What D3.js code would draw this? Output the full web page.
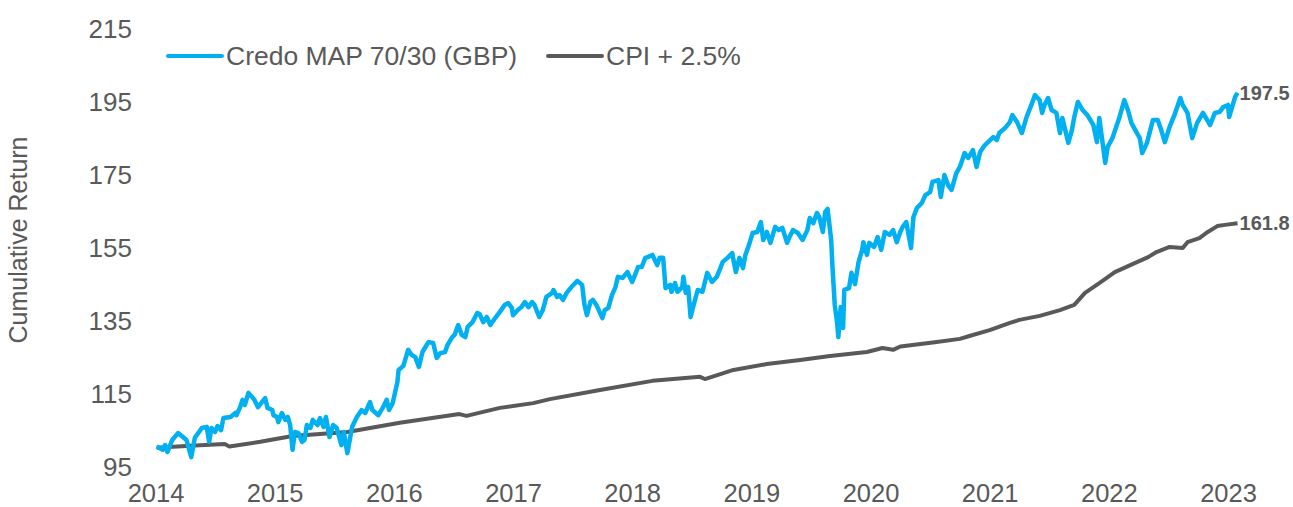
<!DOCTYPE html>
<html>
<head>
<meta charset="utf-8">
<script src="https://cdnjs.cloudflare.com/ajax/libs/d3/7.8.5/d3.min.js"></script>
<style>
  body { margin: 0; background: #fff; }
  svg { display: block; font-family: "Liberation Sans", Arial, sans-serif; }
</style>
</head>
<body>
<svg id="chart" width="1293" height="507"></svg>
<script>
// tick labels
var years = [2014, 2015, 2016, 2017, 2018, 2019, 2020, 2021, 2022, 2023];
var yTicks = [95, 115, 135, 155, 175, 195, 215];

// series names + end labels
var seriesNames = ["Credo MAP 70/30 (GBP)", "CPI + 2.5%"];
var endLabels = ["197.5", "161.8"];

// Credo MAP 70/30 (GBP) - [decimal year, cumulative return]
var credo = [
  [2014.01,100.6],[2014.06,99.7],[2014.08,101.0],[2014.10,99.1],[2014.14,102.4],[2014.19,104.3],
  [2014.23,103.2],[2014.26,102.4],[2014.30,97.7],[2014.33,103.0],[2014.39,105.7],[2014.43,106.0],
  [2014.45,101.9],[2014.47,105.7],[2014.50,104.6],[2014.52,106.2],[2014.55,105.1],[2014.57,108.4],
  [2014.63,108.7],[2014.67,109.8],[2014.68,109.2],[2014.71,111.4],[2014.73,113.4],[2014.75,112.0],
  [2014.78,115.3],[2014.81,114.2],[2014.83,113.4],[2014.86,111.4],[2014.92,113.9],[2014.94,111.2],
  [2014.98,110.6],[2014.99,109.2],[2015.02,108.7],[2015.03,107.3],[2015.06,109.8],[2015.09,107.9],
  [2015.11,108.7],[2015.13,106.5],[2015.15,99.7],[2015.17,104.6],[2015.20,104.3],[2015.23,101.9],
  [2015.25,102.4],[2015.27,106.5],[2015.30,105.7],[2015.32,107.9],[2015.36,106.5],[2015.38,108.4],
  [2015.41,106.0],[2015.43,108.7],[2015.46,103.2],[2015.49,106.5],[2015.52,105.7],[2015.56,101.0],
  [2015.58,104.6],[2015.61,98.8],[2015.65,106.0],[2015.69,108.7],[2015.73,110.6],[2015.76,109.8],
  [2015.80,112.8],[2015.82,110.6],[2015.87,109.2],[2015.91,111.4],[2015.94,113.4],[2015.96,110.6],
  [2015.99,112.5],[2016.03,118.3],[2016.04,121.6],[2016.08,122.7],[2016.12,127.1],[2016.15,125.7],
  [2016.18,125.1],[2016.21,122.4],[2016.24,126.5],[2016.29,129.2],[2016.33,129.0],[2016.36,124.9],
  [2016.39,126.2],[2016.43,126.5],[2016.45,128.4],[2016.49,130.6],[2016.51,131.2],[2016.54,133.9],
  [2016.57,131.2],[2016.60,130.6],[2016.62,133.4],[2016.66,134.7],[2016.70,137.2],[2016.72,136.9],
  [2016.75,134.7],[2016.78,136.1],[2016.81,133.9],[2016.85,135.8],[2016.89,137.5],[2016.93,139.4],
  [2016.96,139.9],[2016.99,138.6],[2017.00,136.6],[2017.04,138.0],[2017.07,138.8],[2017.10,140.2],
  [2017.13,138.8],[2017.16,140.2],[2017.18,139.4],[2017.22,136.1],[2017.25,138.0],[2017.28,141.6],
  [2017.33,142.7],[2017.34,143.5],[2017.37,141.6],[2017.39,142.1],[2017.42,140.8],[2017.45,142.7],
  [2017.49,144.3],[2017.54,146.0],[2017.58,144.9],[2017.60,139.4],[2017.62,136.6],[2017.65,140.2],
  [2017.67,140.8],[2017.70,139.4],[2017.75,135.8],[2017.77,138.0],[2017.80,138.6],[2017.83,142.1],
  [2017.86,144.3],[2017.88,147.1],[2017.92,146.8],[2017.96,148.4],[2018.00,145.7],[2018.02,147.3],
  [2018.05,149.8],[2018.08,149.8],[2018.11,152.3],[2018.13,152.5],[2018.17,153.1],[2018.21,150.3],
  [2018.23,152.3],[2018.26,152.3],[2018.28,144.0],[2018.32,144.9],[2018.33,143.0],[2018.36,145.4],
  [2018.38,143.0],[2018.42,144.3],[2018.43,147.1],[2018.45,142.7],[2018.47,144.3],[2018.49,136.1],
  [2018.52,139.9],[2018.55,143.5],[2018.59,143.0],[2018.63,148.2],[2018.67,145.7],[2018.71,147.1],
  [2018.74,149.5],[2018.76,151.2],[2018.80,152.3],[2018.84,153.6],[2018.85,151.7],[2018.87,148.4],
  [2018.90,152.3],[2018.93,149.5],[2018.95,153.1],[2018.98,155.8],[2019.01,159.1],[2019.05,159.4],
  [2019.08,162.1],[2019.10,157.2],[2019.13,159.4],[2019.16,156.4],[2019.20,160.8],[2019.23,159.9],
  [2019.26,160.5],[2019.30,156.4],[2019.32,158.0],[2019.35,159.9],[2019.39,159.1],[2019.43,157.2],
  [2019.47,159.9],[2019.49,163.2],[2019.52,161.8],[2019.55,164.6],[2019.57,163.5],[2019.60,159.4],
  [2019.62,164.9],[2019.64,165.7],[2019.67,157.2],[2019.68,150.3],[2019.70,139.4],[2019.72,134.5],
  [2019.73,130.6],[2019.75,138.8],[2019.77,133.1],[2019.78,143.5],[2019.82,144.0],[2019.84,148.2],
  [2019.87,145.1],[2019.90,151.2],[2019.93,154.5],[2019.94,156.6],[2019.97,153.1],[2019.99,156.4],
  [2020.03,155.3],[2020.06,158.0],[2020.09,154.5],[2020.12,159.4],[2020.16,158.6],[2020.19,159.9],
  [2020.22,156.6],[2020.25,159.4],[2020.27,160.8],[2020.30,162.1],[2020.34,155.0],[2020.36,163.5],
  [2020.39,166.0],[2020.43,167.3],[2020.46,169.5],[2020.50,170.3],[2020.52,173.1],[2020.57,173.6],
  [2020.59,169.0],[2020.62,175.0],[2020.65,172.3],[2020.68,170.9],[2020.72,175.5],[2020.75,177.2],
  [2020.79,181.0],[2020.82,179.7],[2020.86,181.8],[2020.89,177.2],[2020.92,181.3],[2020.96,183.2],
  [2020.98,183.8],[2021.03,185.4],[2021.06,184.6],[2021.08,186.5],[2021.13,187.9],[2021.17,189.5],
  [2021.19,191.4],[2021.23,189.5],[2021.27,186.5],[2021.31,190.9],[2021.35,194.2],[2021.38,196.9],
  [2021.42,195.5],[2021.44,192.0],[2021.46,194.2],[2021.49,196.1],[2021.52,192.8],[2021.56,192.0],
  [2021.59,186.5],[2021.61,190.6],[2021.66,183.8],[2021.69,187.3],[2021.71,190.9],[2021.74,195.0],
  [2021.78,192.8],[2021.82,191.4],[2021.87,188.7],[2021.90,184.0],[2021.92,190.6],[2021.97,178.3],
  [2021.99,182.7],[2022.03,185.1],[2022.09,190.9],[2022.13,195.5],[2022.16,192.8],[2022.19,189.2],
  [2022.23,186.8],[2022.26,185.1],[2022.28,181.0],[2022.32,183.8],[2022.37,190.1],[2022.41,190.1],
  [2022.44,187.3],[2022.47,184.0],[2022.51,188.2],[2022.55,191.4],[2022.60,196.1],[2022.62,194.2],
  [2022.66,192.0],[2022.70,185.1],[2022.74,189.2],[2022.79,192.0],[2022.85,188.7],[2022.89,192.0],
  [2022.93,192.3],[2022.96,193.6],[2023.00,194.2],[2023.01,190.9],[2023.06,196.4],[2023.08,197.5]
];

// CPI + 2.5% - [decimal year, cumulative return]
var cpi = [
  [2014.01,100.3],[2014.29,100.8],[2014.58,101.3],[2014.62,100.6],[2014.88,101.9],[2015.15,103.5],
  [2015.61,104.6],[2016.05,107.1],[2016.55,109.5],[2016.61,109.0],[2016.89,111.2],[2017.17,112.5],
  [2017.31,113.6],[2017.73,116.1],[2018.17,118.6],[2018.57,119.7],[2018.61,119.1],[2018.85,121.6],
  [2019.13,123.2],[2019.41,124.3],[2019.66,125.4],[2019.97,126.5],[2020.10,127.6],[2020.19,127.1],
  [2020.25,128.0],[2020.54,129.2],[2020.75,130.1],[2020.83,130.9],[2021.00,132.5],[2021.17,134.5],
  [2021.25,135.3],[2021.42,136.4],[2021.59,138.0],[2021.71,139.4],[2021.80,142.7],[2021.92,145.4],
  [2022.05,148.4],[2022.18,150.3],[2022.33,152.5],[2022.40,153.9],[2022.51,155.3],[2022.62,155.0],
  [2022.66,156.6],[2022.76,157.7],[2022.83,159.4],[2022.91,161.0],[2022.99,161.4],[2023.08,161.8]
];

var blue = "#00B0F0", grey = "#595959", textCol = "#595959";

var svg = d3.select("#chart");

var x = d3.scaleLinear().domain([2014, 2023]).range([155.5, 1228]);
var y = d3.scaleLinear().domain([95, 215]).range([467, 29]);

// y axis (no line, no ticks)
var yAxis = svg.append("g")
    .attr("transform", "translate(140,0)")
    .call(d3.axisLeft(y).tickValues(yTicks).tickSize(0).tickPadding(8));
yAxis.select(".domain").remove();
yAxis.selectAll("text")
    .attr("fill", textCol)
    .style("font-size", "26px")
    .style("font-family", "Liberation Sans, Arial, sans-serif");

// x axis
var xAxis = svg.append("g")
    .attr("transform", "translate(0,476)")
    .call(d3.axisBottom(x).tickValues(years).tickFormat(d3.format("d")).tickSize(0).tickPadding(8));
xAxis.select(".domain").remove();
xAxis.selectAll("text")
    .attr("fill", textCol)
    .style("font-size", "25.5px")
    .style("font-family", "Liberation Sans, Arial, sans-serif");

// y title
svg.append("text")
    .attr("transform", "translate(27,240) rotate(-90)")
    .attr("text-anchor", "middle")
    .attr("fill", textCol)
    .style("font-size", "25px")
    .text("Cumulative Return");

var line = d3.line()
    .x(function(d){ return x(d[0]); })
    .y(function(d){ return y(d[1]); });

svg.append("path")
    .datum(cpi)
    .attr("d", line)
    .attr("fill", "none")
    .attr("stroke", grey)
    .attr("stroke-width", 4)
    .attr("stroke-linejoin", "round");

svg.append("path")
    .datum(credo)
    .attr("d", line)
    .attr("fill", "none")
    .attr("stroke", blue)
    .attr("stroke-width", 4.5)
    .attr("stroke-linejoin", "round");

// end labels
var lasts = [credo[credo.length - 1], cpi[cpi.length - 1]];
svg.selectAll(".endlab")
    .data(lasts)
    .enter()
    .append("text")
    .attr("class", "endlab")
    .attr("x", function(d){ return x(d[0]) + 2; })
    .attr("y", function(d){ return y(d[1]); })
    .attr("dominant-baseline", "central")
    .attr("fill", textCol)
    .style("font-size", "20px")
    .style("font-weight", "bold")
    .text(function(d, i){ return endLabels[i]; });

// legend
var legendPos = [168, 548];
var legendCol = [blue, grey];
var leg = svg.selectAll(".leg")
    .data(seriesNames)
    .enter()
    .append("g")
    .attr("class", "leg")
    .attr("transform", function(d, i){ return "translate(" + legendPos[i] + ",56)"; });
leg.append("line")
    .attr("x1", 0).attr("x2", 54)
    .attr("stroke", function(d, i){ return legendCol[i]; })
    .attr("stroke-width", 4)
    .attr("stroke-linecap", "round");
leg.append("text")
    .attr("x", 58)
    .attr("dominant-baseline", "central")
    .attr("fill", textCol)
    .style("font-size", "26.5px")
    .text(function(d){ return d; });
</script>
</body>
</html>
